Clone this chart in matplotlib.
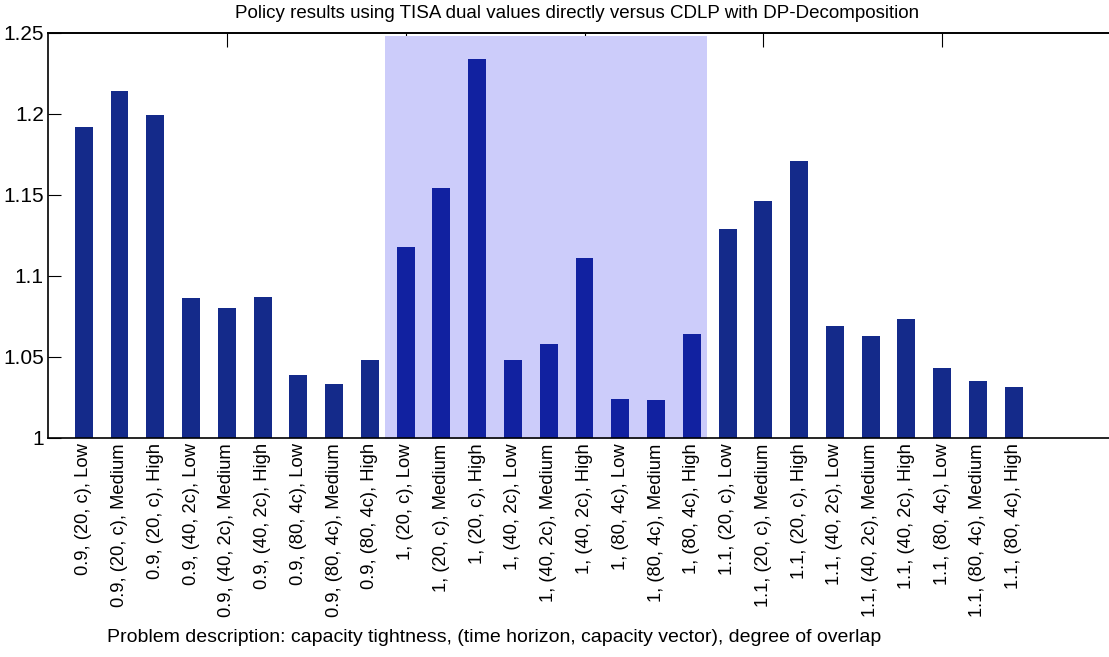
import matplotlib
matplotlib.use("Agg")
import matplotlib.pyplot as plt
import numpy as np

title = "Policy results using TISA dual values directly versus CDLP with DP-Decomposition"
xlabel = "Problem description: capacity tightness, (time horizon, capacity vector), degree of overlap"

categories = [
    "0.9, (20, c), Low", "0.9, (20, c), Medium", "0.9, (20, c), High",
    "0.9, (40, 2c), Low", "0.9, (40, 2c), Medium", "0.9, (40, 2c), High",
    "0.9, (80, 4c), Low", "0.9, (80, 4c), Medium", "0.9, (80, 4c), High",
    "1, (20, c), Low", "1, (20, c), Medium", "1, (20, c), High",
    "1, (40, 2c), Low", "1, (40, 2c), Medium", "1, (40, 2c), High",
    "1, (80, 4c), Low", "1, (80, 4c), Medium", "1, (80, 4c), High",
    "1.1, (20, c), Low", "1.1, (20, c), Medium", "1.1, (20, c), High",
    "1.1, (40, 2c), Low", "1.1, (40, 2c), Medium", "1.1, (40, 2c), High",
    "1.1, (80, 4c), Low", "1.1, (80, 4c), Medium", "1.1, (80, 4c), High",
]
values = [
    1.192, 1.214, 1.199,
    1.086, 1.080, 1.087,
    1.039, 1.033, 1.048,
    1.118, 1.154, 1.234,
    1.048, 1.058, 1.111,
    1.024, 1.023, 1.064,
    1.129, 1.146, 1.171,
    1.069, 1.063, 1.073,
    1.043, 1.035, 1.031,
]
yticks = [1, 1.05, 1.1, 1.15, 1.2, 1.25]
ytick_labels = ["1", "1.05", "1.1", "1.15", "1.2", "1.25"]
top_ticks = [5, 10, 15, 20, 25]
shade_x = (9.43, 18.43)
shade_y = (0.9992, 1.248)

W, H = 1109, 657
fig = plt.figure(figsize=(W / 100, H / 100), dpi=100)
left, right, top, bottom = 48, 1121, 32.7, 437.7
ax = fig.add_axes([left / W, (H - bottom) / H, (right - left) / W, (bottom - top) / H])

x = np.arange(1, len(values) + 1)
ax.fill_between(shade_x, shade_y[0], shade_y[1], color="#CCCCFA", lw=0, zorder=1)
colors = ["#1121A0" if shade_x[0] < xi < shade_x[1] else "#142A8A" for xi in x]
bottoms = 1.0
ax.bar(x, np.array(values) - bottoms, bottom=bottoms, width=0.5, color=colors,
       edgecolor="none", zorder=2)

ax.set_xlim(0, 30)
ax.set_ylim(1, 1.25)
ax.set_yticks(yticks)
ax.set_yticklabels(ytick_labels, fontsize=15, family=["Liberation Sans", "DejaVu Sans"])
ax.tick_params(axis="y", direction="in", length=9, width=0.8, pad=3)
ax.set_xticks(x)
ax.set_xticklabels(categories, rotation=90, fontsize=13.2, va="top", ha="center",
                   family=["Liberation Sans", "DejaVu Sans"])
ax.tick_params(axis="x", length=0, pad=4)

sec = ax.secondary_xaxis("top")
sec.set_xticks(top_ticks)
sec.set_xticklabels([])
sec.tick_params(direction="in", length=10, width=0.8)
sec.spines["top"].set_linewidth(1.2)

for s in ["top", "left", "bottom"]:
    ax.spines[s].set_linewidth(1.2)
ax.spines["right"].set_visible(False)

narrow = ["Liberation Sans Narrow", "Liberation Sans", "DejaVu Sans"]
fig.text(577 / W, 1 - 13 / H, title, ha="center", va="center", fontsize=13.5, family=narrow)
fig.text(494 / W, 1 - 638 / H, xlabel, ha="center", va="center", fontsize=14, family=narrow)

fig.savefig("out.png", dpi=100)
